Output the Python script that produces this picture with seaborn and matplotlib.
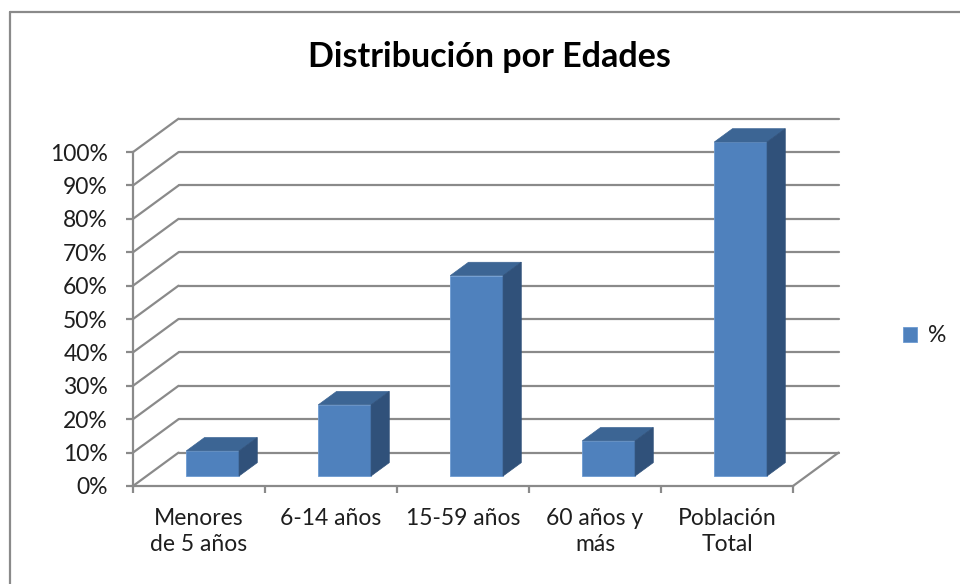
import matplotlib.pyplot as plt
import seaborn as sns
from matplotlib.patches import Polygon
from matplotlib.lines import Line2D

sns.set_theme(style="white")
plt.rcParams['font.family'] = ['Lato', 'DejaVu Sans']

# data
categories = ["Menores\nde 5 años", "6-14 años", "15-59 años", "60 años y\nmás", "Población\nTotal"]
values = [7.5, 21.3, 60.0, 10.5, 100.0]
series_name = "%"
y_ticks = list(range(0, 101, 10))

# fake 3D look (Excel style), depth offsets in data units
DX, DY = 0.345, 10.0
FRONT, DEPTH = 0.3, 0.4
BAR_W = 0.4
GRID = "#8a8a8a"
FACE, TOP, SIDE = "#4F81BD", "#3C6594", "#30517A"
TXT = "#1e1e1e"

fig = plt.figure(figsize=(9.6, 5.84), dpi=100)
ax = fig.add_axes([133 / 960, 98 / 584, 712.8 / 960, 374 / 584])

# front faces of the bars
sns.barplot(x=categories, y=values, color=FACE, saturation=1, width=BAR_W,
            label=series_name, ax=ax, zorder=3, edgecolor="#6C9AD2", linewidth=0.6)

# seaborn resets the limits, so set them afterwards
ax.set_xlim(-0.5, 4.9)
ax.set_ylim(0, 112)

# back wall, side wall and floor edges
x_left, x_right = -0.5, len(categories) - 0.5
for v in y_ticks:
    ax.plot([x_left + DX, x_right + DX], [v + DY, v + DY], color=GRID, lw=1.6, zorder=1, clip_on=False)
    ax.plot([x_left, x_left + DX], [v, v + DY], color=GRID, lw=1.6, zorder=1, clip_on=False)
ax.plot([x_right, x_right + DX], [0, DY], color=GRID, lw=1.6, zorder=1, clip_on=False)

# push bars back into the box and add top / side faces
ddx, ddy = DEPTH * DX, DEPTH * DY
for p in [p for p in ax.patches]:
    p.set_x(p.get_x() + FRONT * DX)
    h = p.get_height()
    p.set_y(FRONT * DY)
    x0, y0 = p.get_x(), p.get_y()
    x1, y1 = x0 + p.get_width(), y0 + h
    top = Polygon([(x0, y1), (x1, y1), (x1 + ddx, y1 + ddy), (x0 + ddx, y1 + ddy)],
                  closed=True, facecolor=TOP, edgecolor=TOP, lw=0.5, zorder=3)
    side = Polygon([(x1, y0), (x1 + ddx, y0 + ddy), (x1 + ddx, y1 + ddy), (x1, y1)],
                   closed=True, facecolor=SIDE, edgecolor=SIDE, lw=0.5, zorder=3)
    ax.add_patch(top)
    ax.add_patch(side)

# axes
for s in ["top", "right"]:
    ax.spines[s].set_visible(False)
ax.spines["left"].set_bounds(0, 100)
ax.spines["bottom"].set_bounds(x_left, x_right)
for s in ["left", "bottom"]:
    ax.spines[s].set_color(GRID)
    ax.spines[s].set_linewidth(1.6)
    ax.spines[s].set_zorder(2)

ax.set_yticks(y_ticks)
ax.set_yticklabels([f"{v}%" for v in y_ticks])
ax.tick_params(axis="y", direction="out", length=5, width=1.6, color=GRID,
               pad=13, labelsize=16.5, labelcolor=TXT, left=True)

ax.set_xticks(range(len(categories)))
ax.set_xticklabels(categories, linespacing=1.3)
ax.set_xticks([x_left + i for i in range(len(categories) + 1)], minor=True)
ax.tick_params(axis="x", which="major", length=0, pad=16, labelsize=16.5, labelcolor=TXT)
ax.tick_params(axis="x", which="minor", direction="out", length=5, width=1.6, color=GRID, bottom=True)
for lab in ax.get_xticklabels():
    lab.set_verticalalignment("top")
ax.set_xlabel("")
ax.set_ylabel("")

# title and legend
fig.text(489 / 960, 1 - 57 / 584, "Distribución por Edades", ha="center", va="center",
         fontsize=24.5, fontweight="bold", color="black")
ax.legend(loc="center left", bbox_to_anchor=(903 / 960, 1 - 336 / 584), bbox_transform=fig.transFigure,
          frameon=False, fontsize=16.5, handlelength=0.6, handleheight=0.6, handletextpad=0.5,
          borderpad=0, borderaxespad=0, labelcolor=TXT)

# chart area border (only left and top visible in the crop)
fig.add_artist(Line2D([10 / 960, 10 / 960], [0, 1 - 12 / 584], transform=fig.transFigure, color=GRID, lw=1.6))
fig.add_artist(Line2D([10 / 960, 1], [1 - 12 / 584, 1 - 12 / 584], transform=fig.transFigure, color=GRID, lw=1.6))

fig.savefig("out.png", dpi=100)
